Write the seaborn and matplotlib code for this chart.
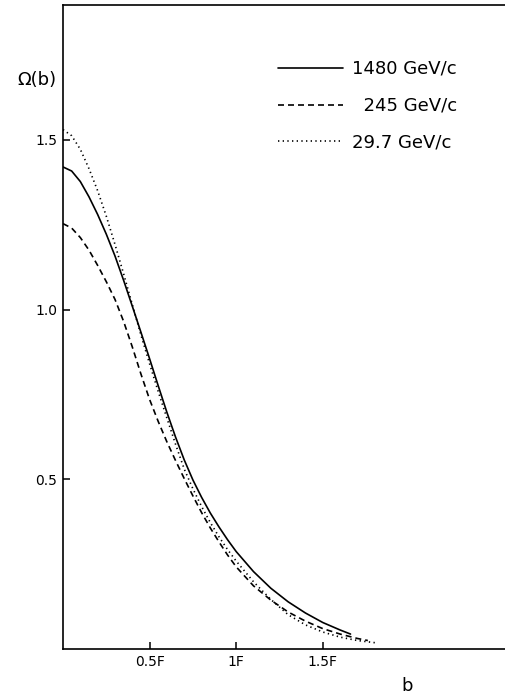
import pandas as pd
import matplotlib
matplotlib.use("Agg")
import matplotlib.pyplot as plt
import seaborn as sns

# Omega(b), b in fermi
b_1480 = [0, 0.05, 0.1, 0.15, 0.2, 0.25, 0.3, 0.35, 0.4, 0.45, 0.5, 0.55, 0.6, 0.65, 0.7, 0.75,
          0.8, 0.85, 0.9, 0.95, 1.0, 1.1, 1.2, 1.3, 1.4, 1.5, 1.6, 1.66]
om_1480 = [1.42, 1.408, 1.377, 1.332, 1.28, 1.222, 1.158, 1.086, 1.01, 0.933, 0.855, 0.775, 0.697, 0.624, 0.557, 0.498,
           0.447, 0.401, 0.36, 0.322, 0.287, 0.228, 0.179, 0.139, 0.106, 0.078, 0.056, 0.044]

b_245 = [0, 0.05, 0.1, 0.15, 0.2, 0.25, 0.3, 0.35, 0.4, 0.45, 0.5, 0.55, 0.6, 0.65, 0.7, 0.75,
         0.8, 0.85, 0.9, 0.95, 1.0, 1.1, 1.2, 1.3, 1.4, 1.5, 1.6, 1.7, 1.76]
om_245 = [1.253, 1.24, 1.212, 1.175, 1.13, 1.082, 1.03, 0.965, 0.89, 0.81, 0.735, 0.67, 0.61, 0.555, 0.502, 0.451,
          0.402, 0.357, 0.316, 0.277, 0.242, 0.186, 0.144, 0.109, 0.082, 0.06, 0.044, 0.031, 0.025]

b_297 = [0, 0.05, 0.1, 0.15, 0.2, 0.25, 0.3, 0.35, 0.4, 0.45, 0.5, 0.55, 0.6, 0.65, 0.7, 0.75,
         0.8, 0.85, 0.9, 0.95, 1.0, 1.1, 1.2, 1.3, 1.4, 1.5, 1.6, 1.7, 1.81]
om_297 = [1.53, 1.512, 1.472, 1.415, 1.35, 1.275, 1.192, 1.105, 1.015, 0.925, 0.84, 0.758, 0.68, 0.603, 0.53, 0.472,
          0.42, 0.373, 0.331, 0.293, 0.259, 0.198, 0.146, 0.101, 0.071, 0.05, 0.035, 0.025, 0.018]

labels = ["1480 GeV/c", "\u2007245 GeV/c", "29.7 GeV/c"]

x_ticks = [0.5, 1.0, 1.5]
x_ticklabels = ["0.5F", "1F", "1.5F"]
y_ticks = [0.5, 1.0, 1.5]
y_ticklabels = ["0.5", "1.0", "1.5"]

df = pd.concat([
    pd.DataFrame({"b": b_1480, "omega": om_1480, "momentum": labels[0]}),
    pd.DataFrame({"b": b_245, "omega": om_245, "momentum": labels[1]}),
    pd.DataFrame({"b": b_297, "omega": om_297, "momentum": labels[2]}),
])

sns.set_style("ticks")
plt.rcParams["font.family"] = ["DejaVu Sans"]
plt.rcParams["text.color"] = "black"

fig = plt.figure(figsize=(5.05, 6.94), dpi=100)
ax = fig.add_axes([63 / 505, 1 - 649 / 694, 1 - 63 / 505, (649 - 5) / 694])

dash_styles = {labels[0]: "", labels[1]: (3.6, 2.4), labels[2]: (0.8, 2.0)}
sns.lineplot(data=df, x="b", y="omega", hue="momentum", style="momentum",
             palette=["black"] * 3, dashes=dash_styles, linewidth=1.2,
             sort=False, ax=ax)

ax.set_xlim(0, (505 - 63.5) / 173)
ax.set_ylim(0, (650 - 5) / 340)

ax.set_xticks(x_ticks)
ax.set_xticklabels(x_ticklabels)
ax.set_yticks(y_ticks)
ax.set_yticklabels(y_ticklabels)
ax.tick_params(direction="in", length=5, width=1.1, labelsize=10, colors="black", pad=4)

for side in ["left", "top", "bottom"]:
    ax.spines[side].set_visible(True)
    ax.spines[side].set_linewidth(1.2)
    ax.spines[side].set_color("black")
ax.spines["right"].set_visible(False)

ax.set_xlabel("b", fontsize=13, color="black")
ax.xaxis.set_label_coords(0.778, -0.043)
ax.set_ylabel("Ω(b)", fontsize=13, rotation=0, ha="center", va="center", color="black")
ax.yaxis.set_label_coords(-0.059, 0.884)

leg = ax.legend(frameon=False, fontsize=13, handlelength=3.6, handletextpad=0.5,
                labelspacing=1.05, loc="upper left", bbox_to_anchor=(0.45, 0.94))
for line in leg.get_lines():
    line.set_linewidth(1.2)
for txt in leg.get_texts():
    txt.set_color("black")

fig.savefig("out.png", dpi=100)
